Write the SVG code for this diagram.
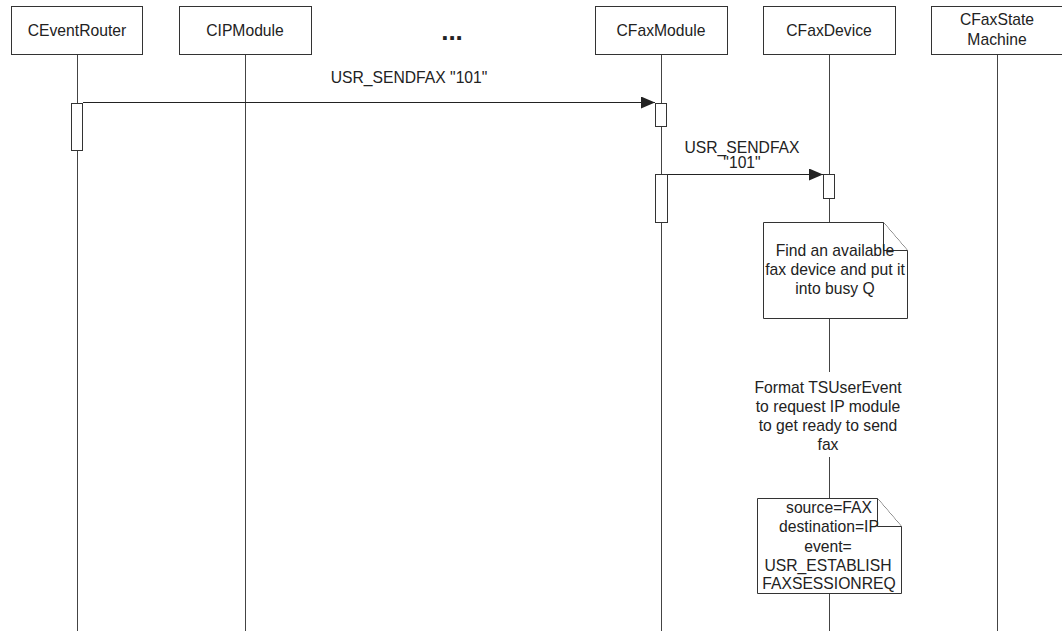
<svg xmlns="http://www.w3.org/2000/svg" width="1062" height="631" viewBox="0 0 1062 631">
<style>
.box{fill:#fff;stroke:#333;stroke-width:1}
.life{stroke:#444;stroke-width:1;fill:none}
.act{fill:#fff;stroke:#333;stroke-width:1}
.msg{stroke:#222;stroke-width:1;fill:none;marker-end:url(#ah)}
text{font-family:"Liberation Sans",Arial,sans-serif;font-size:15.7px;fill:#222;text-anchor:middle}
.note{fill:#fff;stroke:#333;stroke-width:1}
</style>
<defs>
<marker id="ah" markerWidth="15" markerHeight="12" refX="14" refY="6" orient="auto" markerUnits="userSpaceOnUse">
<path d="M0,0 L14,6 L0,12 Z" fill="#222"/>
</marker>
</defs>
<rect width="1062" height="631" fill="#fff"/>
<g id="lifelines">
<line class="life" x1="77.5" y1="54" x2="77.5" y2="631"/>
<line class="life" x1="245.5" y1="54" x2="245.5" y2="631"/>
<line class="life" x1="661.5" y1="54" x2="661.5" y2="631"/>
<line class="life" x1="829.5" y1="54" x2="829.5" y2="222"/>
<line class="life" x1="829.5" y1="318" x2="829.5" y2="372"/>
<line class="life" x1="829.5" y1="457" x2="829.5" y2="498"/>
<line class="life" x1="829.5" y1="593" x2="829.5" y2="631"/>
<line class="life" x1="997.5" y1="54" x2="997.5" y2="631"/>
</g>
<g id="n-ceventrouter">
<rect class="box" x="11.5" y="6.5" width="131" height="48"/>
<text x="77" y="36">CEventRouter</text>
</g>
<g id="n-cipmodule">
<rect class="box" x="179.5" y="6.5" width="132" height="48"/>
<text x="245" y="36">CIPModule</text>
</g>
<g id="n-ellipsis">
<text x="452" y="40" style="font-size:26px;font-weight:bold">...</text>
</g>
<g id="n-cfaxmodule">
<rect class="box" x="595.5" y="6.5" width="132" height="48"/>
<text x="661" y="36">CFaxModule</text>
</g>
<g id="n-cfaxdevice">
<rect class="box" x="763.5" y="6.5" width="132" height="48"/>
<text x="829" y="36">CFaxDevice</text>
</g>
<g id="n-cfaxstatemachine">
<rect class="box" x="931.5" y="6.5" width="132" height="48"/>
<text x="997" y="25">CFaxState</text>
<text x="997" y="45">Machine</text>
</g>
<g id="activations">
<rect class="act" x="71.5" y="103.5" width="11" height="47"/>
<rect class="act" x="655.5" y="103.5" width="11" height="23"/>
<rect class="act" x="655.5" y="174.5" width="12" height="48"/>
<rect class="act" x="823.5" y="174.5" width="11" height="24"/>
</g>
<g id="connectors">
<line class="msg" x1="83" y1="102.5" x2="655" y2="102.5"/>
<line class="msg" x1="668" y1="174.5" x2="823" y2="174.5"/>
</g>
<g id="labels">
<text x="409" y="83">USR_SENDFAX "101"</text>
<text x="742" y="153">USR_SENDFAX</text>
<text x="742" y="168">"101"</text>
</g>
<g id="note1">
<path class="note" d="M763.5,222.5 H883.5 L907.5,250.5 V318.5 H763.5 Z"/>
<path class="note" d="M883.5,222.5 V250.5 H907.5" fill="none"/>
<text x="835" y="256">Find an available</text>
<text x="835" y="275">fax device and put it</text>
<text x="835" y="294">into busy Q</text>
</g>
<g id="n-format">
<text x="828" y="393">Format TSUserEvent</text>
<text x="828" y="412">to request IP module</text>
<text x="828" y="431">to get ready to send</text>
<text x="828" y="450">fax</text>
</g>
<g id="note2">
<path class="note" d="M757.5,498.5 H877.5 L901.5,526.5 V593.5 H757.5 Z"/>
<path class="note" d="M877.5,498.5 V526.5 H901.5" fill="none"/>
<text x="829" y="513">source=FAX</text>
<text x="829" y="532">destination=IP</text>
<text x="828" y="552">event=</text>
<text x="828" y="571">USR_ESTABLISH</text>
<text x="829" y="589">FAXSESSIONREQ</text>
</g>
</svg>
